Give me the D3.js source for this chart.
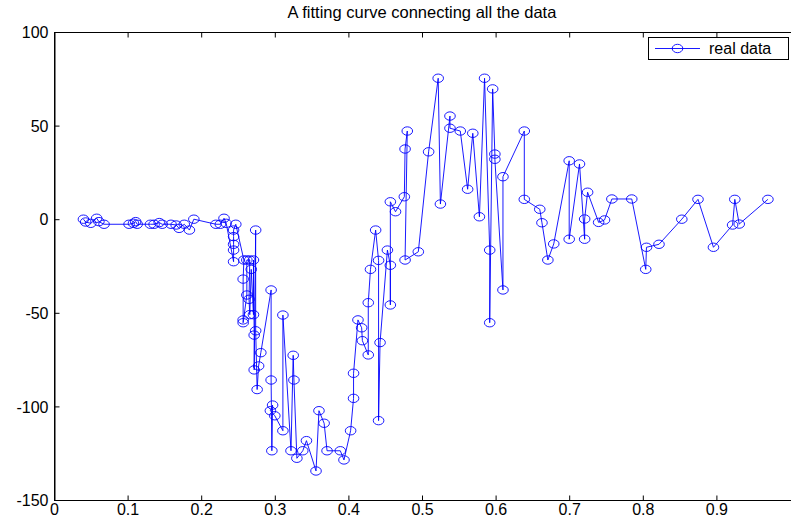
<!DOCTYPE html>
<html>
<head>
<meta charset="utf-8">
<script src="https://cdn.jsdelivr.net/npm/d3@7"></script>
<style>
  html, body { margin: 0; padding: 0; background: #fff; }
  svg { display: block; }
  text { font-family: "Liberation Sans", Arial, sans-serif; fill: #000; }
</style>
</head>
<body>
<svg id="chart" width="791" height="521"></svg>
<script>
// Measured samples, in acquisition order
const xData = [
  0.040, 0.043, 0.050, 0.058, 0.061, 0.068,
  0.102, 0.108, 0.111, 0.113,
  0.131, 0.136, 0.143, 0.147,
  0.159, 0.166, 0.170, 0.177, 0.184, 0.190,
  0.220, 0.226, 0.231, 0.234,
  0.244, 0.244, 0.244, 0.244, 0.244, 0.247,
  0.258, 0.257, 0.257, 0.257, 0.262, 0.262, 0.266, 0.265, 0.266, 0.268,
  0.271, 0.271, 0.272, 0.272, 0.274, 0.274, 0.276, 0.278, 0.281,
  0.295, 0.295, 0.296, 0.297, 0.294, 0.300,
  0.311, 0.311, 0.322, 0.325, 0.326, 0.330, 0.338, 0.343,
  0.356, 0.360, 0.367, 0.371, 0.389, 0.394,
  0.403, 0.407, 0.407, 0.413, 0.418, 0.419, 0.427, 0.427, 0.430, 0.437,
  0.441, 0.441, 0.443, 0.453, 0.457, 0.457, 0.457, 0.464,
  0.476, 0.477, 0.480, 0.477, 0.495, 0.509, 0.522, 0.525,
  0.538, 0.538, 0.552, 0.562, 0.569, 0.578, 0.585,
  0.592, 0.592, 0.596, 0.599, 0.599, 0.610, 0.610,
  0.639, 0.639, 0.660, 0.663, 0.671, 0.679,
  0.700, 0.700, 0.714, 0.721, 0.721, 0.725, 0.740, 0.748, 0.758, 0.785,
  0.804, 0.805, 0.822, 0.853, 0.875, 0.896, 0.922, 0.925, 0.931, 0.970
];
const yData = [
  0, -1.5, -2.2, 0.5, -1.3, -2.7,
  -2.7, -2.2, -1.3, -2.7,
  -2.7, -2.7, -1.8, -2.7,
  -2.7, -3.1, -4.9, -2.7, -5.8, 0,
  -2.7, -2.7, 0.5, -2.2,
  -22.7, -16.5, -13.4, -9.3, -5.8, -2.7,
  -21.8, -32, -53.8, -55.3, -40.5, -21.8, -21.8, -42.8, -51, -26.8,
  -51, -21.8, -61.9, -80.5, -5.8, -59.6, -91, -78.4, -71.3,
  -37.8, -85.9, -123.7, -99.3, -102.3, -105,
  -113, -51.2, -123.7, -72.7, -85.9, -127.7, -123.7, -118.3,
  -134.5, -102.3, -109, -123.7, -123.7, -128.6,
  -113, -95.7, -82.3, -53.8, -58, -64.9, -72.5, -44.6, -26.8, -5.8,
  -22, -107.6, -65.9, -16.5, -24.6, -45.8, 9.3, 4,
  12, 37.5, 47.1, -21.8, -17.4, 36, 75.3, 8.1,
  55.1, 48.6, 47.1, 16, 45.9, 1.3, 75.3,
  -16.5, -55.3, 69.6, 34.8, 32, -37.8, 22.7,
  47.1, 10.6, 5.3, -1.9, -21.8, -13.2,
  31.2, -10.7, 29.5, -10.7, 0.1, 14.4, -1.7, -0.4, 10.8, 10.8,
  -26.8, -15, -13.4, 0, 10.6, -15, -3.1, 10.6, -2.6, 10.6
];

const xTicks = [0, 0.1, 0.2, 0.3, 0.4, 0.5, 0.6, 0.7, 0.8, 0.9];
const yTicks = [100, 50, 0, -50, -100, -150];
const titleText = "A fitting curve connecting all the data";
const seriesName = "real data";

const points = xData.map((v, i) => ({ x: v, y: yData[i] }));

const svg = d3.select("#chart");
const plotLeft = 54, plotTop = 32, plotBottom = 500, plotRight = 797;

const x = d3.scaleLinear().domain([0, 1]).range([plotLeft, 790]);
const y = d3.scaleLinear().domain([-150, 100]).range([plotBottom, plotTop]);

const blue = "#0000ff";
const fontStack = '"Liberation Sans", Arial, sans-serif';

// title
svg.append("text")
  .attr("x", 422).attr("y", 18)
  .attr("text-anchor", "middle")
  .style("font-size", "16.5px")
  .text(titleText);

// frame lines (top and left; the right edge lies past the canvas)
const frame = svg.append("g").attr("stroke", "#000").attr("stroke-width", 1).attr("shape-rendering", "crispEdges");
frame.append("line").attr("x1", plotLeft).attr("x2", plotRight).attr("y1", plotTop + 0.5).attr("y2", plotTop + 0.5);
frame.append("line").attr("x1", plotLeft + 0.5).attr("x2", plotLeft + 0.5).attr("y1", plotTop).attr("y2", plotBottom);

// bottom axis with inward ticks
const fmt = d => String(d);
const gx = svg.append("g")
  .attr("transform", `translate(0,${plotBottom + 0.5})`)
  .call(d3.axisBottom(x).tickValues(xTicks).tickFormat(fmt).tickSizeInner(-5).tickSizeOuter(0).tickPadding(3));
gx.select(".domain").attr("d", `M${plotLeft},0H${plotRight}`);

// mirrored ticks along the top edge
svg.append("g")
  .attr("transform", `translate(0,${plotTop + 0.5})`)
  .call(d3.axisTop(x).tickValues(xTicks.slice(1)).tickFormat("").tickSizeInner(-5).tickSizeOuter(0))
  .select(".domain").remove();

// left axis with inward ticks
const gy = svg.append("g")
  .attr("transform", `translate(${plotLeft + 0.5},0)`)
  .call(d3.axisLeft(y).tickValues(yTicks).tickFormat(fmt).tickSizeInner(-5).tickSizeOuter(0).tickPadding(6));

[gx, gy].forEach(g => {
  g.selectAll("text").style("font-size", "16px").style("font-family", fontStack).attr("fill", "#000");
  g.selectAll("line").attr("stroke", "#000");
  g.select(".domain").attr("stroke", "#000");
});
gy.selectAll(".tick text").attr("dy", "0.36em");

// connecting line
svg.append("path")
  .datum(points)
  .attr("fill", "none")
  .attr("stroke", blue)
  .attr("stroke-width", 0.9)
  .attr("d", d3.line().x(d => x(d.x)).y(d => y(d.y)));

// circle markers
svg.append("g").selectAll("ellipse")
  .data(points)
  .join("ellipse")
  .attr("cx", d => x(d.x))
  .attr("cy", d => y(d.y))
  .attr("rx", 5.3)
  .attr("ry", 4.2)
  .attr("fill", "none")
  .attr("stroke", blue)
  .attr("stroke-width", 0.9);

// legend
const lg = svg.append("g");
lg.append("rect")
  .attr("x", 648.5).attr("y", 37.5).attr("width", 140).attr("height", 22)
  .attr("fill", "#fff").attr("stroke", "#000").attr("stroke-width", 1);
lg.append("line")
  .attr("x1", 655).attr("x2", 700).attr("y1", 48.5).attr("y2", 48.5)
  .attr("stroke", blue).attr("stroke-width", 0.9);
lg.append("ellipse")
  .attr("cx", 677.5).attr("cy", 48.5).attr("rx", 5.3).attr("ry", 4.2)
  .attr("fill", "none").attr("stroke", blue).attr("stroke-width", 0.9);
lg.append("text")
  .attr("x", 709).attr("y", 54)
  .style("font-size", "16px")
  .text(seriesName);
</script>
</body>
</html>
